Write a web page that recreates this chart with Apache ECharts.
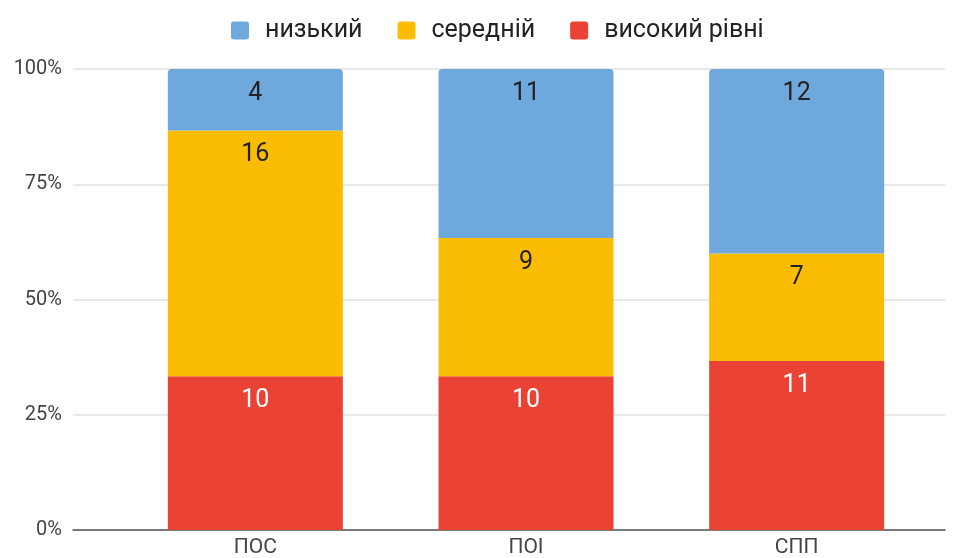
<!DOCTYPE html>
<html>
<head>
    <meta charset="utf-8">
    <title>ECharts</title>
    <script src="https://cdn.jsdelivr.net/npm/echarts@6/dist/echarts.min.js"></script>
    <style type="text/css">
        html, body { margin: 0; padding: 0; background: #fff; }
        #main { width: 957px; height: 558px; }
    </style>
</head>
<body>
<div id="main"></div>
<script type="text/javascript">
    var categories = ['ПОС', 'ПОІ', 'СПП'];
    var seriesNames = ['низький', 'середній', 'високий рівні'];
    var lowValues = [4, 11, 12];
    var midValues = [16, 9, 7];
    var highValues = [10, 10, 11];
    var yTicks = [0, 25, 50, 75, 100];

    var colors = {low: '#6fa8dc', mid: '#fbbc04', high: '#ea4335'};

    // share of each segment in its bar
    function percent(arr) {
        return arr.map(function (v, i) {
            var total = lowValues[i] + midValues[i] + highValues[i];
            return {value: v / total * 100, raw: v};
        });
    }

    function makeSeries(name, values, color, labelColor, top) {
        return {
            name: name,
            type: 'bar',
            stack: 'total',
            xAxisIndex: 1,
            yAxisIndex: 1,
            barWidth: 175,
            data: percent(values),
            itemStyle: {color: color, borderRadius: top ? [4, 4, 0, 0] : 0},
            label: {
                show: true,
                position: 'insideTop',
                distance: 12,
                fontSize: 25,
                fontFamily: 'Roboto',
                color: labelColor,
                formatter: function (p) { return p.data.raw; }
            },
            emphasis: {disabled: true}
        };
    }

    var chart = echarts.init(document.getElementById('main'));
    chart.setOption({
        animation: false,
        color: [colors.low, colors.mid, colors.high],
        legend: {
            top: 13,
            left: 226,
            itemWidth: 18,
            itemHeight: 18,
            itemGap: 35,
            icon: 'path://M3,0 H15 A3,3 0 0 1 18,3 V15 A3,3 0 0 1 15,18 H3 A3,3 0 0 1 0,15 V3 A3,3 0 0 1 3,0 Z',
            textStyle: {fontSize: 25, color: '#222', fontFamily: 'Roboto', padding: [0, 0, 0, 11]},
            data: seriesNames
        },
        grid: [
            {left: 73, right: 12, top: 69, bottom: 28},
            {left: 120, right: 25, top: 69, bottom: 28}
        ],
        xAxis: [
            {
                type: 'category', gridIndex: 0, data: [''],
                axisLine: {lineStyle: {color: '#555', width: 1.5}},
                axisTick: {show: false}, axisLabel: {show: false}
            },
            {
                type: 'category', gridIndex: 1, data: categories,
                axisLine: {show: false}, axisTick: {show: false},
                axisLabel: {fontSize: 21, color: '#444', fontFamily: 'Roboto', margin: 7}
            }
        ],
        yAxis: [
            {
                type: 'value', gridIndex: 0, min: 0, max: 100, interval: 25,
                axisLine: {show: false}, axisTick: {show: false},
                splitLine: {lineStyle: {color: '#e0e0e0', width: 1.5}},
                axisLabel: {
                    fontSize: 20, color: '#444', fontFamily: 'Roboto', margin: 11,
                    formatter: function (v) { return yTicks.indexOf(v) >= 0 ? v + '%' : ''; }
                }
            },
            {
                type: 'value', gridIndex: 1, min: 0, max: 100, interval: 25,
                show: false
            }
        ],
        series: [
            makeSeries(seriesNames[2], highValues, colors.high, '#fff', false),
            makeSeries(seriesNames[1], midValues, colors.mid, '#222', false),
            makeSeries(seriesNames[0], lowValues, colors.low, '#222', true)
        ]
    });
</script>
</body>
</html>
